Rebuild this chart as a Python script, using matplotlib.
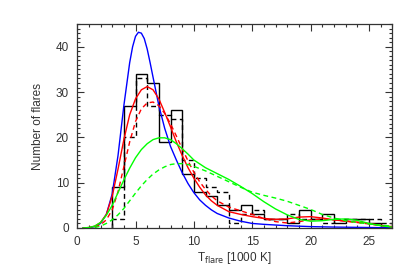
import numpy as np
import matplotlib
matplotlib.use("Agg")
import matplotlib.pyplot as plt
from matplotlib.ticker import MultipleLocator

# histogram bins (1000 K), width 1
edges = np.arange(3, 28)
n_solid = [9, 27, 34, 32, 19, 26, 12, 8, 7, 5, 4, 5, 3, 2, 2, 1, 4, 2, 3, 1, 2, 2, 1, 0]
n_dash = [2, 20, 33, 27, 25, 24, 15, 11, 9, 8, 1, 3, 4, 2, 2, 3, 2, 2, 1, 2, 2, 2, 2, 1]

# model curves
t_blue = [0.5, 1.0, 1.5, 2.0, 2.5, 3.0, 3.5, 4.0, 4.5, 4.75, 5.0, 5.25, 5.5, 5.75, 6.0, 6.25,
          6.5, 7.0, 7.5, 8.0, 8.5, 9.0, 9.5, 10.0, 10.5, 11.0, 11.5, 12.0, 13.0, 14.0, 15.0,
          16.0, 18.0, 20.0, 22.0, 25.0, 27.0]
n_blue = [0.0, 0.05, 0.3, 1.0, 3.0, 7.5, 16, 27, 36.5, 40, 42.3, 43.2, 43.0, 41.8, 39.5, 36.5,
          33.3, 27, 22, 18, 15, 12.2, 9.8, 7.8, 6.2, 5.0, 4.0, 3.2, 2.2, 1.5, 1.0,
          0.8, 0.5, 0.3, 0.2, 0.1, 0.05]

t_red = [0.5, 1.0, 1.5, 2.0, 2.5, 3.0, 3.5, 4.0, 4.5, 5.0, 5.5, 6.0, 6.5, 7.0, 7.5, 8.0,
         8.5, 9.0, 9.5, 10.0, 10.5, 11.0, 11.5, 12.0, 13.0, 14.0, 15.0, 16.0, 17.0, 18.0,
         19.0, 20.0, 21.0, 22.0, 23.0, 24.0, 25.0, 26.0, 27.0]
n_red = [0, 0.1, 0.4, 1.2, 3.0, 7.0, 13, 19.5, 25, 28.5, 30.5, 31.2, 30.5, 28.5, 25.5, 22.3,
         19, 16, 13.3, 11, 9, 7.3, 6, 5, 3.6, 3.0, 2.5, 2.1, 1.9, 2.0,
         2.4, 2.5, 2.2, 1.8, 1.5, 1.3, 1.0, 0.6, 0.3]

t_red2 = [1.5, 2.0, 2.5, 3.0, 3.5, 4.0, 4.5, 5.0, 5.5, 6.0, 6.5, 7.0, 7.5, 8.0, 8.5, 9.0,
          9.5, 10.0, 10.5, 11.0, 11.5, 12.0, 13.0, 14.0, 15.0, 16.0, 17.0, 18.0, 19.0,
          20.0, 21.0, 22.0, 23.0, 24.0, 25.0, 26.0, 27.0]
n_red2 = [0.2, 0.7, 1.8, 4, 8, 13.5, 19, 23.5, 26.3, 27.6, 27.8, 27, 25.3, 23, 20.3, 17.5,
          14.8, 12.3, 10.2, 8.5, 7.1, 6.0, 4.6, 3.8, 3.0, 2.1, 1.4, 1.1, 1.4,
          1.8, 2.0, 1.8, 1.5, 1.2, 0.9, 0.5, 0.2]

t_grn = [0.5, 1.0, 1.5, 2.0, 2.5, 3.0, 3.5, 4.0, 4.5, 5.0, 5.5, 6.0, 6.5, 7.0, 7.5, 8.0,
         8.5, 9.0, 9.5, 10.0, 11.0, 12.0, 13.0, 14.0, 15.0, 16.0, 17.0, 18.0, 19.0, 20.0,
         21.0, 22.0, 23.0, 24.0, 25.0, 26.0, 27.0]
n_grn = [0, 0.1, 0.4, 1.2, 2.8, 5.0, 7.8, 10.6, 13.2, 15.5, 17.3, 18.6, 19.5, 19.9, 19.9, 19.5,
         18.6, 17.5, 16.3, 15.0, 13.3, 12.0, 10.7, 9.2, 7.6, 5.8, 4.2, 2.9, 1.9, 1.5,
         1.6, 1.9, 2.0, 1.7, 1.0, 0.5, 0.2]

t_grn2 = [1.5, 2.0, 2.5, 3.0, 3.5, 4.0, 4.5, 5.0, 5.5, 6.0, 6.5, 7.0, 7.5, 8.0, 8.5, 9.0,
          9.5, 10.0, 11.0, 12.0, 13.0, 14.0, 15.0, 16.0, 17.0, 18.0, 19.0, 20.0, 21.0,
          22.0, 23.0, 24.0, 25.0, 26.0, 27.0]
n_grn2 = [0.1, 0.4, 1.0, 1.8, 2.9, 4.3, 6.0, 7.7, 9.3, 10.7, 11.9, 12.8, 13.5, 14.0, 14.2, 14.2,
          14.0, 13.6, 12.6, 11.4, 10.2, 9.0, 7.9, 7.2, 6.6, 5.9, 5.0, 4.1, 3.0,
          2.2, 1.6, 1.2, 0.9, 0.6, 0.4]

plt.rcParams['font.family'] = ['Liberation Sans', 'DejaVu Sans']
fig = plt.figure(figsize=(4.15, 2.77), dpi=100)
ax = fig.add_axes([0.186, 0.177, 0.759, 0.736])

dash = (0, (3.5, 2.5))
ax.stairs(n_solid, edges, color='black', lw=1.0, baseline=0)
ax.stairs(n_dash, edges, color='black', lw=1.0, baseline=0, linestyle=dash)
ax.plot(t_blue, n_blue, color='#0000ff', lw=1.0)
ax.plot(t_red, n_red, color='#ff0000', lw=1.0)
ax.plot(t_red2, n_red2, color='#ff0000', lw=1.0, linestyle=dash)
ax.plot(t_grn, n_grn, color='#00ff00', lw=1.0)
ax.plot(t_grn2, n_grn2, color='#00ff00', lw=1.0, linestyle=dash)

ax.set_xlim(0, 27)
ax.set_ylim(0, 45)
ax.xaxis.set_major_locator(MultipleLocator(5))
ax.xaxis.set_minor_locator(MultipleLocator(1))
ax.yaxis.set_major_locator(MultipleLocator(10))
ax.yaxis.set_minor_locator(MultipleLocator(1))
ax.tick_params(which='both', direction='in', top=True, right=True,
               color='#333333', labelsize=8.5, labelcolor='#333333', pad=6)
ax.tick_params(which='major', length=5, width=0.8)
ax.tick_params(which='minor', length=2.5, width=0.8)
for s in ax.spines.values():
    s.set_linewidth(0.9)
    s.set_color('#333333')

ax.set_xlabel(r'T$_{\mathrm{flare}}$ [1000 K]', fontsize=8.5, color='#333333', labelpad=1)
ax.set_ylabel('Number of flares', fontsize=8.5, color='#333333', labelpad=8)

fig.savefig('out.png', dpi=100)
